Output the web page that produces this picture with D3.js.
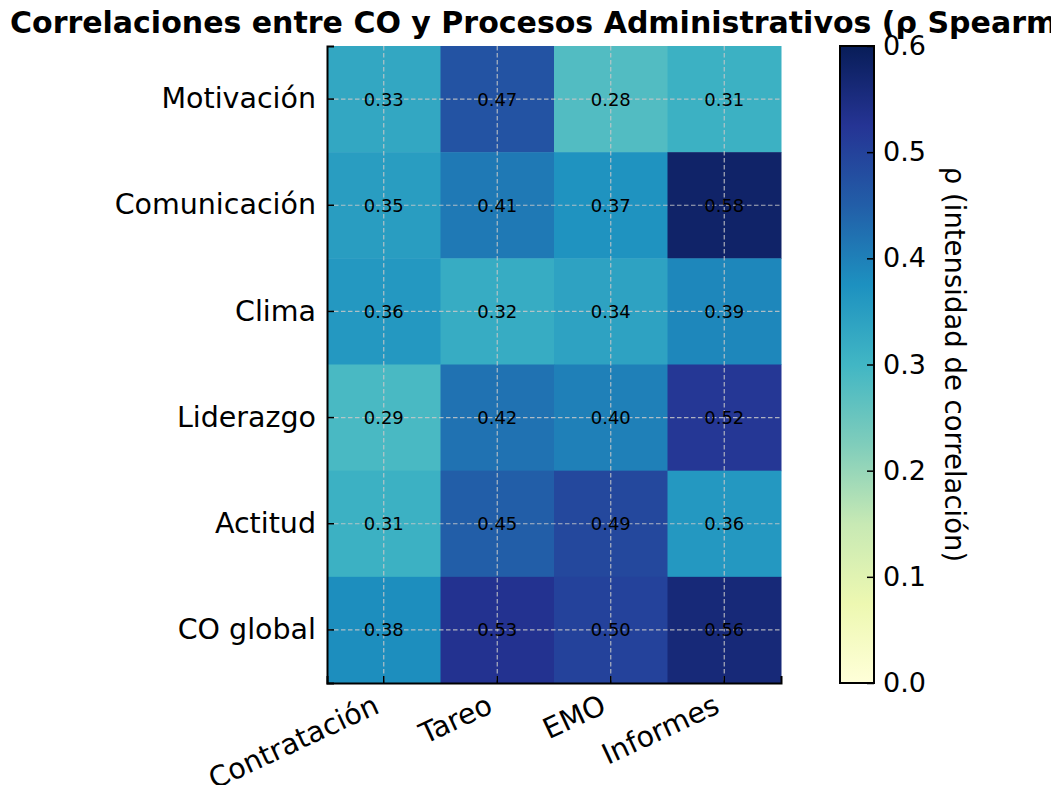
<!DOCTYPE html>
<html>
<head>
<meta charset="utf-8">
<script src="https://cdn.jsdelivr.net/npm/d3@7"></script>
<style>
  html, body { margin: 0; padding: 0; background: #fff; }
  svg { display: block; font-family: "DejaVu Sans", sans-serif; }
</style>
</head>
<body>
<svg id="chart" width="1051" height="785"></svg>
<script>
// Row and column labels of the correlation matrix
const rows = ["Motivación", "Comunicación", "Clima", "Liderazgo", "Actitud", "CO global"];
const cols = ["Contratación", "Tareo", "EMO", "Informes"];

// Spearman rho per row (one array per dimension)
const motivacion   = [0.33, 0.47, 0.28, 0.31];
const comunicacion = [0.35, 0.41, 0.37, 0.58];
const clima        = [0.36, 0.32, 0.34, 0.39];
const liderazgo    = [0.29, 0.42, 0.40, 0.52];
const actitud      = [0.31, 0.45, 0.49, 0.36];
const coGlobal     = [0.38, 0.53, 0.50, 0.56];

const colorbarTicks = [0.0, 0.1, 0.2, 0.3, 0.4, 0.5, 0.6];

const matrix = [motivacion, comunicacion, clima, liderazgo, actitud, coGlobal];
const cells = [];
matrix.forEach((vals, i) => vals.forEach((v, j) => cells.push({ row: rows[i], col: cols[j], value: v })));

const svg = d3.select("#chart");

// Heatmap area
const plotL = 327, plotR = 781, plotT = 46, plotB = 683;

const x = d3.scaleBand().domain(cols).range([plotL, plotR]).padding(0);
const y = d3.scaleBand().domain(rows).range([plotT, plotB]).padding(0);

// YlGnBu colour ramp, 0.0 – 0.6
const ylgnbu = ["#ffffd9", "#edf8b1", "#c7e9b4", "#7fcdbb", "#41b6c4", "#1d91c0", "#225ea8", "#253494", "#081d58"];
const vmin = 0, vmax = 0.6;
const color = d3.scaleLinear()
  .domain(ylgnbu.map((_, i) => vmin + (vmax - vmin) * i / (ylgnbu.length - 1)))
  .range(ylgnbu)
  .interpolate(d3.interpolateRgb)
  .clamp(true);

const labelSize = 28.5;

// Cells
svg.append("g").selectAll("rect").data(cells).join("rect")
  .attr("x", d => x(d.col))
  .attr("y", d => y(d.row))
  .attr("width", x.bandwidth() + 0.5)
  .attr("height", y.bandwidth() + 0.5)
  .attr("fill", d => color(d.value));

// Dashed grid at the tick positions
const grid = svg.append("g")
  .attr("stroke", "#c8c8c8")
  .attr("stroke-opacity", 0.85)
  .attr("stroke-width", 1.2)
  .attr("stroke-dasharray", "4.5,2.5");
cols.forEach(c => {
  const cx = x(c) + x.bandwidth() / 2;
  grid.append("line").attr("x1", cx).attr("x2", cx).attr("y1", plotT).attr("y2", plotB);
});
rows.forEach(r => {
  const cy = y(r) + y.bandwidth() / 2;
  grid.append("line").attr("x1", plotL).attr("x2", plotR).attr("y1", cy).attr("y2", cy);
});

// Value annotations
svg.append("g").selectAll("text").data(cells).join("text")
  .attr("x", d => x(d.col) + x.bandwidth() / 2)
  .attr("y", d => y(d.row) + y.bandwidth() / 2)
  .attr("text-anchor", "middle")
  .attr("dominant-baseline", "central")
  .attr("font-size", 18)
  .attr("fill", "#000")
  .text(d => d.value.toFixed(2));

// Axes (ticks pointing inward)
const xAxis = svg.append("g")
  .attr("transform", `translate(0,${plotB})`)
  .call(d3.axisBottom(x).tickSize(-7).tickPadding(10));
xAxis.select(".domain").attr("stroke", "#000").attr("stroke-width", 2);
xAxis.selectAll(".tick line").attr("stroke", "#000").attr("stroke-width", 1.5);
xAxis.selectAll(".tick text")
  .attr("font-size", labelSize)
  .attr("font-family", "DejaVu Sans")
  .attr("fill", "#000")
  .attr("text-anchor", "end")
  .attr("dy", null)
  .attr("y", 0)
  .attr("transform", "translate(-3,29) rotate(-25)");

const yAxis = svg.append("g")
  .attr("transform", `translate(${plotL},0)`)
  .call(d3.axisLeft(y).tickSize(-7).tickPadding(11));
yAxis.select(".domain").attr("stroke", "#000").attr("stroke-width", 2);
yAxis.selectAll(".tick line").attr("stroke", "#000").attr("stroke-width", 1.5);
yAxis.selectAll(".tick text")
  .attr("font-size", labelSize)
  .attr("font-family", "DejaVu Sans")
  .attr("fill", "#000");

// Colour bar
const cbLeft = 840, cbWidth = 34;
const cbY = d3.scaleLinear().domain([vmin, vmax]).range([plotB, plotT]);
const defs = svg.append("defs");
const grad = defs.append("linearGradient")
  .attr("id", "cbgrad").attr("x1", 0).attr("y1", 1).attr("x2", 0).attr("y2", 0);
ylgnbu.forEach((c, i) => grad.append("stop")
  .attr("offset", i / (ylgnbu.length - 1))
  .attr("stop-color", c));
svg.append("rect")
  .attr("x", cbLeft).attr("y", plotT)
  .attr("width", cbWidth).attr("height", plotB - plotT)
  .attr("fill", "url(#cbgrad)")
  .attr("stroke", "#000").attr("stroke-width", 2);

const cbAxis = svg.append("g")
  .attr("transform", `translate(${cbLeft + cbWidth},0)`)
  .call(d3.axisRight(cbY).tickValues(colorbarTicks).tickFormat(d3.format(".1f")).tickSize(-7).tickPadding(9));
cbAxis.select(".domain").remove();
cbAxis.selectAll(".tick line").attr("stroke", "#000").attr("stroke-width", 1.5);
cbAxis.selectAll(".tick text")
  .attr("font-size", 27)
  .attr("font-family", "DejaVu Sans")
  .attr("fill", "#000");

svg.append("text")
  .attr("transform", `translate(955,${(plotT + plotB) / 2}) rotate(90)`)
  .attr("text-anchor", "middle")
  .attr("dominant-baseline", "central")
  .attr("font-size", 27.5)
  .attr("fill", "#000")
  .text("ρ (intensidad de correlación)");

// Title
svg.append("text")
  .attr("x", 10)
  .attr("y", 33)
  .attr("font-size", 30)
  .attr("font-weight", "bold")
  .attr("fill", "#000")
  .text("Correlaciones entre CO y Procesos Administrativos (ρ Spearman)");
</script>
</body>
</html>
